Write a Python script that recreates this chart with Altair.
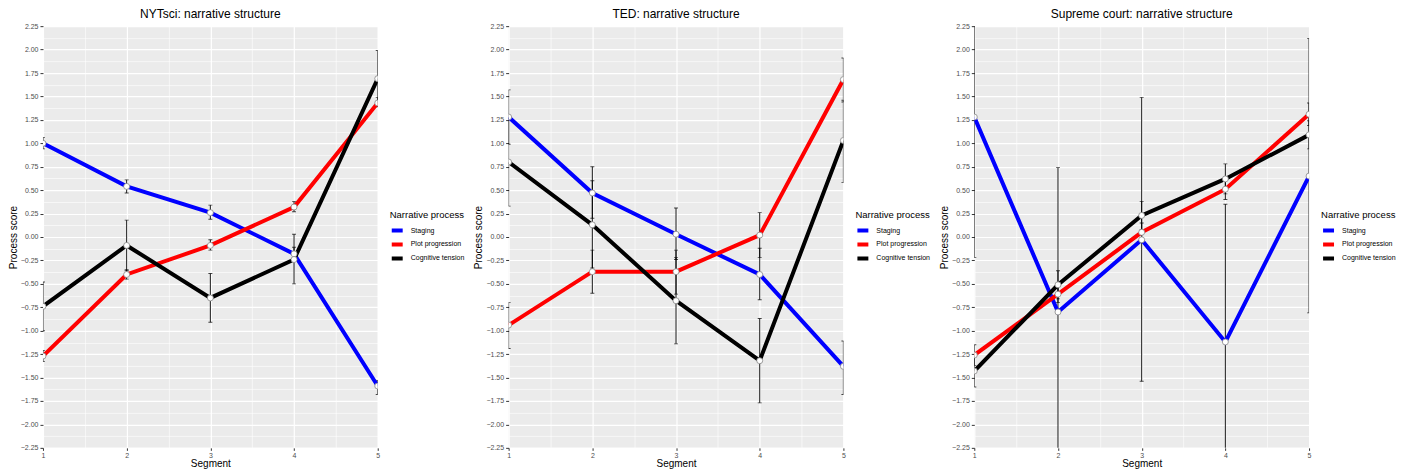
import altair as alt
import pandas as pd

segments = [1, 2, 3, 4, 5]
processes = ["Staging", "Plot progression", "Cognitive tension"]
colors = ["#0000FF", "#FF0000", "#000000"]
titles = ["NYTsci: narrative structure", "TED: narrative structure", "Supreme court: narrative structure"]

# NYTsci
nyt_staging = [1.00, 0.54, 0.26, -0.18, -1.59]
nyt_staging_lo = [0.94, 0.47, 0.19, -0.25, -1.68]
nyt_staging_hi = [1.06, 0.61, 0.34, -0.11, -1.53]
nyt_plot = [-1.27, -0.40, -0.09, 0.32, 1.43]
nyt_plot_lo = [-1.33, -0.45, -0.14, 0.27, 1.39]
nyt_plot_hi = [-1.21, -0.35, -0.03, 0.38, 1.49]
nyt_cog = [-0.74, -0.09, -0.65, -0.24, 1.69]
nyt_cog_lo = [-1.00, -0.36, -0.91, -0.50, 1.40]
nyt_cog_hi = [-0.48, 0.18, -0.39, 0.03, 1.99]

# TED
ted_staging = [1.28, 0.47, 0.03, -0.40, -1.38]
ted_staging_lo = [0.99, 0.20, -0.24, -0.67, -1.68]
ted_staging_hi = [1.57, 0.75, 0.31, -0.12, -1.11]
ted_plot = [-0.94, -0.37, -0.37, 0.02, 1.68]
ted_plot_lo = [-1.19, -0.60, -0.61, -0.22, 1.44]
ted_plot_hi = [-0.70, -0.14, -0.14, 0.26, 1.91]
ted_cog = [0.80, 0.13, -0.68, -1.32, 1.03]
ted_cog_lo = [0.33, -0.33, -1.14, -1.77, 0.58]
ted_cog_hi = [1.27, 0.60, -0.22, -0.87, 1.46]

# Supreme court
sc_staging = [1.28, -0.80, -0.03, -1.12, 0.65]
sc_staging_lo = [-0.22, -2.34, -1.54, -2.59, -0.81]
sc_staging_hi = [2.78, 0.74, 1.49, 0.35, 2.12]
sc_plot = [-1.26, -0.61, 0.05, 0.51, 1.31]
sc_plot_lo = [-1.37, -0.70, -0.05, 0.40, 1.19]
sc_plot_hi = [-1.15, -0.52, 0.15, 0.62, 1.43]
sc_cog = [-1.43, -0.51, 0.23, 0.62, 1.09]
sc_cog_lo = [-1.60, -0.66, 0.08, 0.46, 0.94]
sc_cog_hi = [-1.27, -0.36, 0.38, 0.78, 1.24]

panels = [
    (titles[0], [(nyt_staging, nyt_staging_lo, nyt_staging_hi),
                 (nyt_plot, nyt_plot_lo, nyt_plot_hi),
                 (nyt_cog, nyt_cog_lo, nyt_cog_hi)]),
    (titles[1], [(ted_staging, ted_staging_lo, ted_staging_hi),
                 (ted_plot, ted_plot_lo, ted_plot_hi),
                 (ted_cog, ted_cog_lo, ted_cog_hi)]),
    (titles[2], [(sc_staging, sc_staging_lo, sc_staging_hi),
                 (sc_plot, sc_plot_lo, sc_plot_hi),
                 (sc_cog, sc_cog_lo, sc_cog_hi)]),
]

y_values = [-2.25 + 0.125 * i for i in range(37)]
x_values = [1 + 0.5 * i for i in range(9)]

y_major = "abs(datum.value*4 - round(datum.value*4)) < 0.001"
x_major = "abs(datum.value - round(datum.value)) < 0.001"

y_axis = alt.Axis(
    values=y_values,
    labelExpr=f"({y_major}) ? format(datum.value, '.2f') : ''",
    grid=True,
    gridColor="white",
    gridWidth={"condition": {"test": y_major, "value": 1.2}, "value": 0.6},
    tickOpacity={"condition": {"test": y_major, "value": 1}, "value": 0},
    tickColor="#333333",
    tickSize=3,
    domain=False,
    labelFontSize=7,
    labelColor="#4D4D4D",
    labelPadding=2,
    labelFlush=False,
    labelOverlap=False,
    titleFontSize=10,
    titleFontWeight="normal",
    titleColor="#000000",
    titlePadding=2,
)
x_axis = alt.Axis(
    values=x_values,
    labelExpr=f"({x_major}) ? format(datum.value, 'd') : ''",
    grid=True,
    gridColor="white",
    gridWidth={"condition": {"test": x_major, "value": 1.2}, "value": 0.6},
    tickOpacity={"condition": {"test": x_major, "value": 1}, "value": 0},
    tickColor="#333333",
    tickSize=2.5,
    domain=False,
    labelFontSize=7,
    labelColor="#4D4D4D",
    labelPadding=1,
    labelFlush=False,
    labelOverlap=False,
    titleFontSize=10,
    titleFontWeight="normal",
    titleColor="#000000",
    titlePadding=0,
)


def make_panel(title, series):
    rows = []
    for proc, (m, lo, hi) in zip(processes, series):
        for s, mv, lv, hv in zip(segments, m, lo, hi):
            rows.append({"segment": s, "process": proc, "score": mv, "lo": lv, "hi": hv})
    df = pd.DataFrame(rows)
    base = alt.Chart(df)
    xs = alt.X("segment:Q", scale=alt.Scale(domain=[1, 5], nice=False, zero=False),
               axis=x_axis, title="Segment")
    ys = alt.Scale(domain=[-2.25, 2.25], nice=False, zero=False)
    err = base.mark_errorbar(ticks={"size": 4}, color="black", thickness=0.9, clip=True).encode(
        x=xs,
        y=alt.Y("lo:Q", scale=ys, axis=y_axis, title="Process score"),
        y2="hi:Q",
    )
    line = base.mark_line(strokeWidth=4, clip=True).encode(
        x=xs,
        y=alt.Y("score:Q", scale=ys, axis=y_axis, title="Process score"),
        color=alt.Color(
            "process:N",
            scale=alt.Scale(domain=processes, range=colors),
            sort=processes,
            title="Narrative process",
            legend=alt.Legend(
                orient="none", legendX=347, legendY=184,
                symbolType="stroke", symbolStrokeWidth=4, symbolSize=120,
                titleFontSize=9.5, titleFontWeight="normal", titleColor="#000000",
                labelFontSize=7, labelColor="#000000", labelOffset=6,
                rowPadding=0, titlePadding=4, clipHeight=14,
            ),
        ),
    )
    pts = base.mark_point(filled=True, fill="white", stroke="#888888", strokeWidth=0.8,
                          size=36, opacity=1, clip=True).encode(
        x=xs,
        y=alt.Y("score:Q", scale=ys, axis=y_axis, title="Process score"),
    )
    return alt.layer(err, line, pts).properties(
        width=335, height=422,
        title=alt.TitleParams(title, fontSize=12, fontWeight="normal", color="#000000", offset=1),
    )


chart = alt.hconcat(*[make_panel(t, s) for t, s in panels], spacing=9).resolve_scale(
    color="independent"
).resolve_legend(color="independent").configure(
    font="Liberation Sans", padding=0
).configure_view(
    fill="#EBEBEB", strokeWidth=0
)

chart.save("out.html", embed_options={"renderer": "svg", "actions": False})
